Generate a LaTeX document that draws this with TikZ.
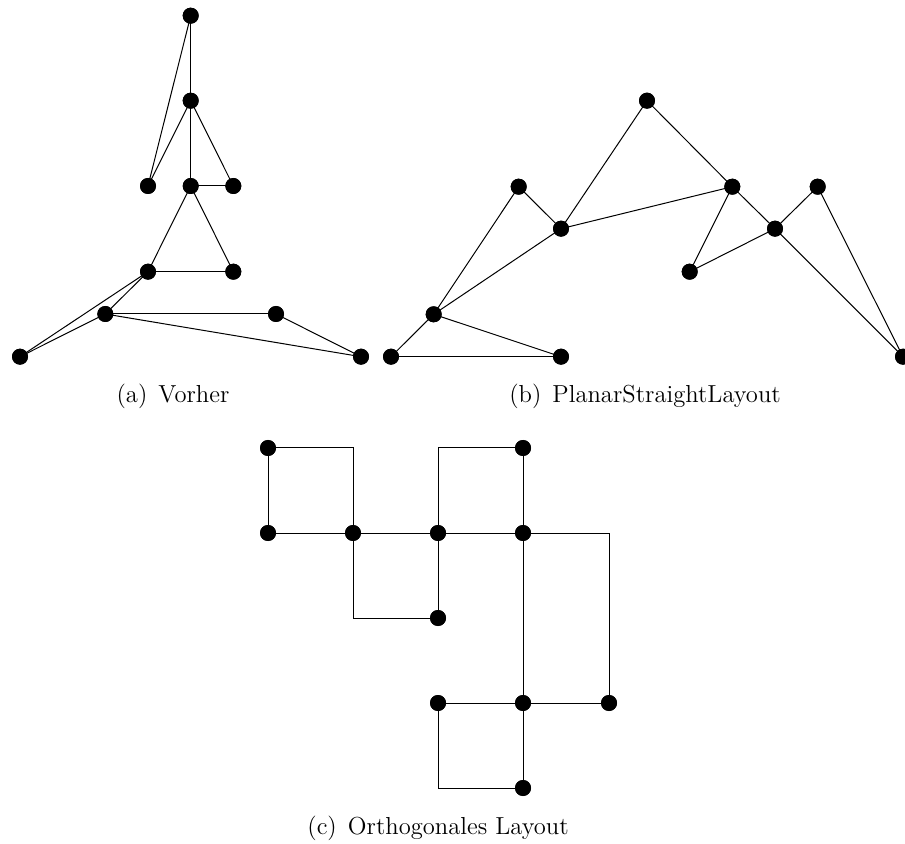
\documentclass[tikz,border=0pt]{standalone}
\begin{document}
\begin{tikzpicture}[x=0.5pt,y=-0.5pt,
  vertex/.style={circle,fill=black,draw=none,inner sep=0pt,minimum size=8pt},
  edge/.style={draw=black,line width=0.5pt},
  caption/.style={font=\fontsize{12.3}{14}\selectfont,inner sep=0pt,anchor=base}]
\useasboundingbox (0,0) rectangle (905,844);

% ---- (a) Vorher ----
\node[vertex] (a1)  at (190.7,15.7) {};
\node[vertex] (a2)  at (190.7,100.7) {};
\node[vertex] (a3)  at (148,186) {};
\node[vertex] (a4)  at (190.7,186) {};
\node[vertex] (a5)  at (233.3,186) {};
\node[vertex] (a6)  at (148,271.7) {};
\node[vertex] (a7)  at (233.3,271.7) {};
\node[vertex] (a8)  at (105.3,314) {};
\node[vertex] (a9)  at (276,314) {};
\node[vertex] (a10) at (20,356.7) {};
\node[vertex] (a11) at (361,356.7) {};
\foreach \u/\v in {a1/a2,a1/a3,a2/a3,a2/a4,a2/a5,a4/a5,a4/a6,a4/a7,a6/a7,
                   a6/a8,a6/a10,a8/a10,a8/a9,a8/a11,a9/a11}
  \draw[edge] (\u.center) -- (\v.center);
\node[caption] (capa) at (173,402.5) {(a)\hspace{0.45em}Vorher};

% ---- (b) PlanarStraightLayout ----
\node[vertex] (b1)  at (647,100.7) {};
\node[vertex] (b2)  at (518.7,186.7) {};
\node[vertex] (b3)  at (732.3,186.7) {};
\node[vertex] (b4)  at (817.7,186.7) {};
\node[vertex] (b5)  at (561,228.7) {};
\node[vertex] (b6)  at (775,228.7) {};
\node[vertex] (b7)  at (689.7,271.7) {};
\node[vertex] (b8)  at (433.7,314.3) {};
\node[vertex] (b9)  at (391,356.7) {};
\node[vertex] (b10) at (561,356.7) {};
\node[vertex] (b11) at (903,356.7) {};
\foreach \u/\v in {b1/b5,b1/b3,b2/b5,b2/b8,b5/b3,b5/b8,b3/b7,b3/b6,b7/b6,
                   b6/b4,b6/b11,b4/b11,b8/b9,b8/b10,b9/b10}
  \draw[edge] (\u.center) -- (\v.center);
\node[caption] (capb) at (645,402.5) {(b)\hspace{0.45em}PlanarStraightLayout};

% ---- (c) Orthogonales Layout ----
\node[vertex] (c1)  at (268,448) {};
\node[vertex] (c2)  at (268,533) {};
\node[vertex] (c3)  at (353,533) {};
\node[vertex] (c4)  at (438,533) {};
\node[vertex] (c5)  at (523,448) {};
\node[vertex] (c6)  at (523,533) {};
\node[vertex] (c7)  at (438,618) {};
\node[vertex] (c8)  at (438,703) {};
\node[vertex] (c9)  at (523,703) {};
\node[vertex] (c10) at (609,703) {};
\node[vertex] (c11) at (523,788) {};
\foreach \u/\v in {c1/c2,c2/c3,c3/c4,c4/c6,c4/c7,c5/c6,c6/c9,c8/c9,c9/c10,c9/c11}
  \draw[edge] (\u.center) -- (\v.center);
\draw[edge] (c1.center) -| (c3.center);
\draw[edge] (c3.center) |- (c7.center);
\draw[edge] (c4.center) |- (c5.center);
\draw[edge] (c6.center) -| (c10.center);
\draw[edge] (c8.center) |- (c11.center);
\node[caption] (capc) at (438,834) {(c)\hspace{0.45em}Orthogonales Layout};

% vertices drawn again on top of the connectors
\foreach \n in {a1,a2,a3,a4,a5,a6,a7,a8,a9,a10,a11,
                b1,b2,b3,b4,b5,b6,b7,b8,b9,b10,b11,
                c1,c2,c3,c4,c5,c6,c7,c8,c9,c10,c11}
  \fill (\n.center) circle[radius=4pt];
\end{tikzpicture}
\end{document}
